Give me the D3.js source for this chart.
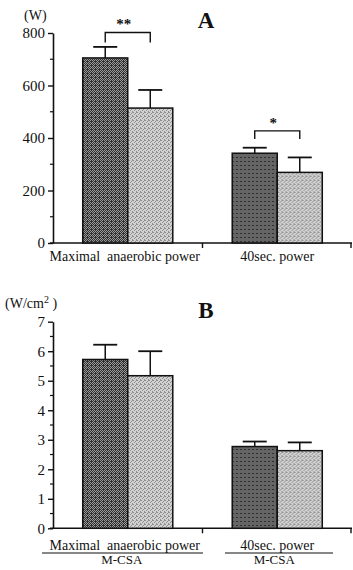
<!DOCTYPE html>
<html><head><meta charset="utf-8">
<script src="https://cdn.jsdelivr.net/npm/d3@7"></script>
<style>
html,body{margin:0;padding:0;background:#fff;}
svg{display:block;}
text{font-family:"Liberation Serif","Times New Roman",serif;fill:#111;white-space:pre;}
</style></head>
<body>
<script>
// ---- data ----
const categoriesA = ["Maximal  anaerobic power", "40sec. power"];
const categoriesB = ["Maximal  anaerobic power", "40sec. power"];
const subLabelsB = ["M-CSA", "M-CSA"];
const seriesNames = ["dark", "light"];

const powerDark = [705, 342];
const powerDarkSD = [42, 21];
const powerLight = [514, 269];
const powerLightSD = [69, 57];
const powerTicks = [0, 200, 400, 600, 800];
const powerSig = ["**", "*"];

const relDark = [5.72, 2.77];
const relDarkSD = [0.50, 0.17];
const relLight = [5.17, 2.63];
const relLightSD = [0.83, 0.28];
const relTicks = [0, 1, 2, 3, 4, 5, 6, 7];

const W = 353, H = 570;
const svg = d3.select("body").append("svg").attr("width", W).attr("height", H);

// patterns to imitate halftone print
const defs = svg.append("defs");
function makePattern(id, base, dot, dots) {
  const p = defs.append("pattern").attr("id", id).attr("patternUnits", "userSpaceOnUse")
    .attr("width", 4).attr("height", 4);
  p.append("rect").attr("width", 4).attr("height", 4).attr("fill", base);
  dots.forEach(([x, y]) => p.append("rect").attr("x", x).attr("y", y).attr("width", 1).attr("height", 1).attr("fill", dot));
}
makePattern("darkPat", "#9a9a9a", "#303030",
  [[0,0],[2,0],[1,1],[3,1],[0,2],[2,2],[3,3],[1,3],[2,1]]);
makePattern("lightPat", "#d2d2d2", "#8e8e8e",
  [[0,0],[2,1],[3,3],[1,2],[3,0]]);

const fills = {dark: "url(#darkPat)", light: "url(#lightPat)"};

function panel(opts) {
  const g = svg.append("g");
  const x0 = d3.scaleBand().domain(opts.cats).range([53, 352]);
  const x1 = d3.scaleBand().domain(seriesNames).range([0, x0.bandwidth()]).paddingOuter(0.66);
  const y = d3.scaleLinear().domain([0, opts.max]).range(opts.yRange);

  // y axis
  const yAxis = d3.axisLeft(y).tickValues(opts.ticks).tickSize(5).tickSizeOuter(0).tickPadding(3)
    .tickFormat(d3.format("d"));
  const ya = g.append("g").attr("transform", "translate(53,0)").call(yAxis);
  ya.attr("font-family", null);
  ya.select(".domain").attr("stroke", "#111").attr("stroke-width", 1.6);
  ya.selectAll(".tick line").attr("stroke", "#111").attr("stroke-width", 1.4);
  ya.selectAll(".tick text").style("font-family", '"Liberation Serif",serif').style("font-size", "15px").attr("fill", "#111");
  // minor ticks
  const minor = d3.range(opts.ticks.length - 1).map(i => (opts.ticks[i] + opts.ticks[i + 1]) / 2);
  g.append("g").selectAll("line").data(minor).join("line")
    .attr("x1", 50).attr("x2", 53).attr("y1", d => y(d)).attr("y2", d => y(d))
    .attr("stroke", "#111").attr("stroke-width", 1.2);

  // x axis
  g.append("line").attr("x1", 50).attr("x2", 352).attr("y1", y(0)).attr("y2", y(0))
    .attr("stroke", "#111").attr("stroke-width", 1.6);
  g.append("g").selectAll("line").data(opts.cats.slice(1).map(c => x0(c)).concat([x0.range()[1] - 1]))
    .join("line").attr("x1", d => d).attr("x2", d => d).attr("y1", y(0)).attr("y2", y(0) + 5)
    .attr("stroke", "#111").attr("stroke-width", 1.4);

  // bars
  const rows = opts.cats.map((c, i) => ({c, i, vals: [
    {s: "dark", v: opts.dark[i], sd: opts.darkSD[i]},
    {s: "light", v: opts.light[i], sd: opts.lightSD[i]}]}));
  const grp = g.append("g").selectAll("g").data(rows).join("g")
    .attr("transform", d => `translate(${x0(d.c)},0)`);
  // error bars (behind bars)
  grp.selectAll("g.err").data(d => d.vals).join("g").attr("class", "err").each(function (d) {
    const cx = x1(d.s) + x1.bandwidth() / 2;
    const e = d3.select(this);
    e.append("line").attr("x1", cx).attr("x2", cx).attr("y1", y(d.v)).attr("y2", y(d.v + d.sd))
      .attr("stroke", "#111").attr("stroke-width", 1.5);
    e.append("line").attr("x1", cx - 12).attr("x2", cx + 12).attr("y1", y(d.v + d.sd)).attr("y2", y(d.v + d.sd))
      .attr("stroke", "#111").attr("stroke-width", 1.8);
  });
  grp.selectAll("rect").data(d => d.vals).join("rect")
    .attr("x", d => x1(d.s)).attr("width", x1.bandwidth())
    .attr("y", d => y(d.v)).attr("height", d => y(0) - y(d.v))
    .attr("fill", d => fills[d.s]).attr("stroke", "#111").attr("stroke-width", 1.5);

  // significance brackets
  if (opts.sig) {
    rows.forEach((r, i) => {
      const xa = x0(r.c) + x1("dark") + x1.bandwidth() / 2;
      const xb = x0(r.c) + x1("light") + x1.bandwidth() / 2;
      const top = y(opts.sigY[i]);
      g.append("path").attr("d", `M${xa},${top + opts.sigDrop[i]}V${top}H${xb}V${top + opts.sigDrop[i]}`)
        .attr("fill", "none").attr("stroke", "#111").attr("stroke-width", 1.4);
      g.append("text").attr("x", (xa + xb) / 2 - 4).attr("y", top - 3).attr("text-anchor", "middle")
        .style("font-size", "15px").style("font-weight", "bold").text(opts.sig[i]);
    });
  }

  // category labels
  rows.forEach((r, i) => {
    const cx = x0(r.c) + x0.bandwidth() / 2 - (i === 0 ? 3 : 0);
    g.append("text").attr("x", cx).attr("y", opts.labelY).attr("text-anchor", "middle")
      .style("font-size", "14px").text(r.c);
    if (opts.sub) {
      const ul = i === 0 ? [42, 203] : [225, 333];
      g.append("line").attr("x1", ul[0]).attr("x2", ul[1]).attr("y1", opts.labelY + 3).attr("y2", opts.labelY + 3)
        .attr("stroke", "#111").attr("stroke-width", 1.2);
      g.append("text").attr("x", cx - 3).attr("y", opts.labelY + 14).attr("text-anchor", "middle")
        .style("font-size", "13px").text(opts.sub[i]);
    }
  });

  // unit label and panel letter
  const u = g.append("text").attr("x", opts.unitX).attr("y", opts.unitY).style("font-size", "14px");
  u.append("tspan").text(opts.unit[0]);
  if (opts.unit[1]) {
    u.append("tspan").attr("dy", -5).style("font-size", "10px").text(opts.unit[1]);
    u.append("tspan").attr("dy", 5).text(opts.unit[2]);
  }
  g.append("text").attr("x", 206).attr("y", opts.letterY).attr("text-anchor", "middle")
    .style("font-size", "23px").style("font-weight", "bold").text(opts.letter);
}

panel({cats: categoriesA, dark: powerDark, darkSD: powerDarkSD, light: powerLight, lightSD: powerLightSD,
  max: 800, ticks: powerTicks, yRange: [243, 33], sig: powerSig, sigY: [802, 427], sigDrop: [10, 8],
  labelY: 261, unit: ["(W)"], unitX: 24, unitY: 20, letter: "A", letterY: 28});

panel({cats: categoriesB, dark: relDark, darkSD: relDarkSD, light: relLight, lightSD: relLightSD,
  max: 7, ticks: relTicks, yRange: [528.3, 321.7], labelY: 550, sub: subLabelsB,
  unit: ["(W/cm", "2", " )"], unitX: 5, unitY: 308, letter: "B", letterY: 318});
</script>
</body></html>
